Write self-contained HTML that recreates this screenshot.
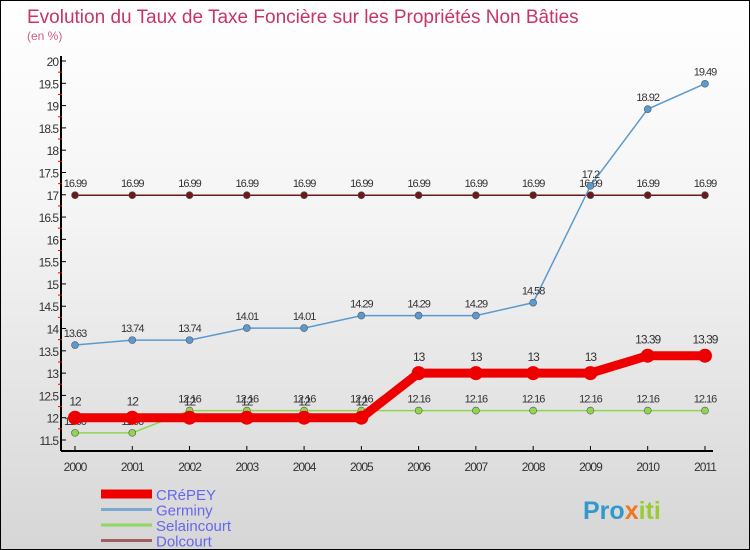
<!DOCTYPE html>
<html><head><meta charset="utf-8"><style>
body{margin:0}
#wrap{width:748px;height:548px;border:1px solid #000;background:linear-gradient(#fff,#f4f4f4 40%,#d6d6d6);position:relative;overflow:hidden;font-family:"Liberation Sans",sans-serif}
</style></head><body>
<div id="wrap">
<svg id="chart" width="748" height="548"></svg>
</div>
<script>
const years=[2000,2001,2002,2003,2004,2005,2006,2007,2008,2009,2010,2011];
const crepey=[12,12,12,12,12,12,13,13,13,13,13.39,13.39];
const germiny=[13.63,13.74,13.74,14.01,14.01,14.29,14.29,14.29,14.58,17.2,18.92,19.49];
const selaincourt=[11.66,11.66,12.16,12.16,12.16,12.16,12.16,12.16,12.16,12.16,12.16,12.16];
const dolcourt=[16.99,16.99,16.99,16.99,16.99,16.99,16.99,16.99,16.99,16.99,16.99,16.99];
const yTicks=[11.5,12,12.5,13,13.5,14,14.5,15,15.5,16,16.5,17,17.5,18,18.5,19,19.5,20];
const seriesNames=["CRéPEY","Germiny","Selaincourt","Dolcourt"];
const NS="http://www.w3.org/2000/svg";
const svg=document.getElementById('chart');
const X=i=>74+i*57.27;
const Y=v=>439-(v-11.5)/8.5*379;
function el(t,a,p){const e=document.createElementNS(NS,t);for(const k in a)e.setAttribute(k,a[k]);(p||svg).appendChild(e);return e;}
function txt(x,y,s,a){const e=el('text',Object.assign({x:x,y:y},a));e.textContent=s;return e;}
const title=txt(26,22,"Evolution du Taux de Taxe Foncière sur les Propriétés Non Bâties",{fill:"#c8336a","font-size":19});


const sub=txt(26,39,"(en %)",{fill:"#d06080","font-size":12});


const yAxis=el('line',{x1:60,y1:55,x2:60,y2:450,stroke:"#000","stroke-width":2});


const xAxis=el('line',{x1:60,y1:450,x2:712,y2:450,stroke:"#000","stroke-width":2});


yTicks.forEach(v=>{
  el('line',{x1:60,y1:Y(v),x2:65,y2:Y(v),stroke:"#000","stroke-width":1});
  if(v<20) el('line',{x1:57,y1:Y(v+0.25),x2:61,y2:Y(v+0.25),stroke:"#e00","stroke-width":1});
  const t=txt(57,Y(v)+5,String(v),{fill:"#333","font-size":12,"text-anchor":"end","letter-spacing":"-1"});
  
  
});
years.forEach((y,i)=>{
  el('line',{x1:X(i),y1:445,x2:X(i),y2:450,stroke:"#000"});
  const t=txt(X(i),470,String(y),{fill:"#333","font-size":12,"text-anchor":"middle","letter-spacing":"-1"});
  
  
});
function series(data,color,w,r,name,labelDy,fs){
  const g=el('g',{});
  
  
  el('polyline',{points:data.map((v,i)=>X(i)+','+Y(v)).join(' '),fill:"none",stroke:color,"stroke-width":w},g);
  data.forEach((v,i)=>{
    const c=el('circle',{cx:X(i),cy:Y(v),r:r,fill:color,stroke:"#555","stroke-width":r>5?0:0.6},g);
    
    
    const t=txt(X(i),Y(v)+labelDy,String(v),{fill:"#333","font-size":fs,"text-anchor":"middle","letter-spacing":"-1"});
    g.appendChild(t);
  });
}
series(dolcourt,"#6b1a1a",1.5,3.5,"dolcourt",-8,11);
series(germiny,"#5a9ad0",1.5,3.5,"germiny",-8,11);
series(selaincourt,"#8fd64e",1.5,3.5,"selaincourt",-8,11);
series(crepey,"#ee0000",9,7,"crepey",-12,12);
const legColors=["#ee0000","#7aaad0","#90d860","#a06060"];
const legW=[9,3,3,3];
seriesNames.forEach((n,i)=>{
  const y=493+i*15.5;
  const g=el('g',{});
  
  
  el('line',{x1:100,y1:y,x2:151,y2:y,stroke:legColors[i],"stroke-width":legW[i]},g);
  const t=txt(155,y+6,n,{fill:"#6666ee","font-size":15});g.appendChild(t);
});
const logo=el('text',{x:582,y:518,"font-size":25,"font-weight":"bold"});


[["Pro","#3399cc"],["x","#ee7722"],["iti","#99cc33"]].forEach(p=>{const s=el('tspan',{fill:p[1]},logo);s.textContent=p[0];});
</script>
</body></html>
